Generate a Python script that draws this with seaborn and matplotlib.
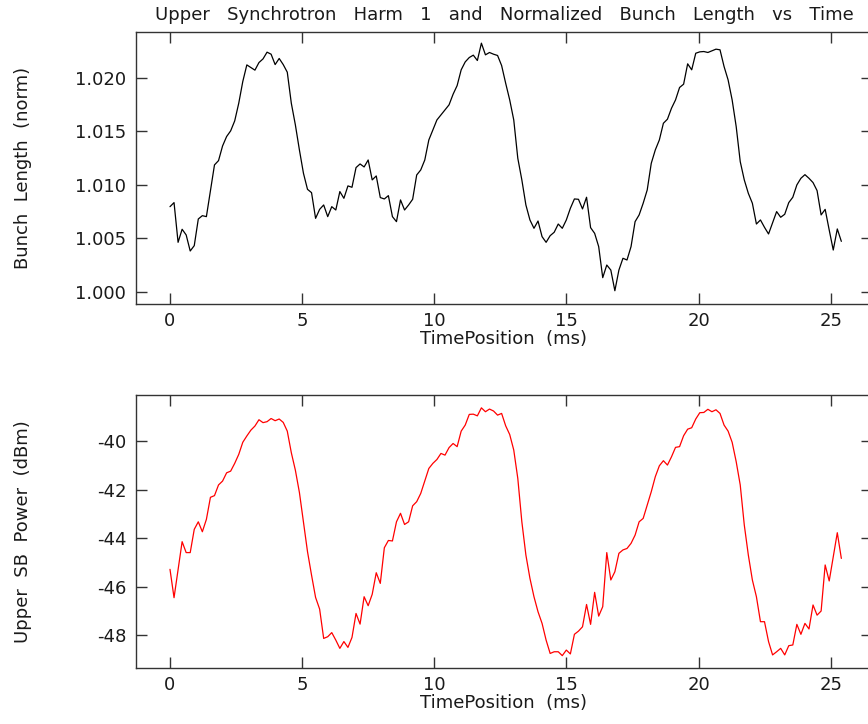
import numpy as np
import matplotlib
matplotlib.use("Agg")
import matplotlib.pyplot as plt
import seaborn as sns

title_text = "Upper   Synchrotron   Harm   1   and   Normalized   Bunch   Length   vs   Time"
x_label = "TimePosition  (ms)"
top_ylabel = "Bunch  Length  (norm)"
bottom_ylabel = "Upper  SB  Power  (dBm)"

bunch_length = [
    1.00794, 1.00832, 1.00461, 1.00583, 1.00530, 1.00380, 1.00430, 1.00679, 1.00710, 1.00701,
    1.00944, 1.01184, 1.01224, 1.01361, 1.01449, 1.01502, 1.01595, 1.01760, 1.01963, 1.02118,
    1.02093, 1.02069, 1.02140, 1.02174, 1.02237, 1.02218, 1.02121, 1.02178, 1.02121, 1.02050,
    1.01760, 1.01558, 1.01324, 1.01106, 1.00956, 1.00925, 1.00685, 1.00769, 1.00810, 1.00701,
    1.00794, 1.00763, 1.00935, 1.00872, 1.00988, 1.00975, 1.01159, 1.01193, 1.01165, 1.01230,
    1.01044, 1.01081, 1.00879, 1.00866, 1.00897, 1.00701, 1.00654, 1.00857,
    1.00763, 1.00810, 1.00863, 1.01090, 1.01137, 1.01230, 1.01417, 1.01511, 1.01604, 1.01651,
    1.01698, 1.01745, 1.01844, 1.01925, 1.02072, 1.02146, 1.02187, 1.02209, 1.02159, 1.02321,
    1.02212, 1.02234, 1.02218, 1.02206, 1.02112, 1.01947, 1.01791, 1.01604, 1.01246, 1.01044,
    1.00810, 1.00670, 1.00592, 1.00660, 1.00514, 1.00461, 1.00523, 1.00555, 1.00632, 1.00592,
    1.00670, 1.00779, 1.00866, 1.00863, 1.00773, 1.00882, 1.00598, 1.00545, 1.00421, 1.00131,
    1.00249, 1.00202, 1.00009, 1.00202, 1.00312, 1.00296, 1.00421, 1.00654,
    1.00717, 1.00826, 1.00950, 1.01199, 1.01324, 1.01417, 1.01573, 1.01611, 1.01713, 1.01791,
    1.01907, 1.01938, 1.02128, 1.02072, 1.02227, 1.02240, 1.02243, 1.02234, 1.02249, 1.02265,
    1.02259, 1.02103, 1.01978, 1.01791, 1.01542, 1.01215, 1.01044, 1.00919, 1.00826, 1.00632,
    1.00670, 1.00601, 1.00539, 1.00645, 1.00748, 1.00695, 1.00723, 1.00832, 1.00882, 1.00997,
    1.01059, 1.01093, 1.01059, 1.01019, 1.00944, 1.00717, 1.00769, 1.00576, 1.00389, 1.00586,
    1.00470,
]

sb_power = [
    -45.29, -46.46, -45.32, -44.15, -44.60, -44.60, -43.64, -43.33, -43.74, -43.23,
    -42.32, -42.25, -41.81, -41.65, -41.31, -41.24, -40.92, -40.55, -40.05, -39.79,
    -39.55, -39.38, -39.12, -39.24, -39.20, -39.07, -39.16, -39.09, -39.23, -39.59,
    -40.48, -41.20, -42.12, -43.33, -44.56, -45.53, -46.45, -46.93, -48.14, -48.07,
    -47.90, -48.21, -48.55, -48.27, -48.51, -48.10, -47.11, -47.55, -46.42, -46.79,
    -46.32, -45.43, -45.87, -44.40, -44.10, -44.12, -43.33, -42.98,
    -43.44, -43.33, -42.67, -42.50, -42.16, -41.65, -41.13, -40.92, -40.76, -40.51,
    -40.58, -40.27, -40.10, -40.23, -39.59, -39.34, -38.90, -38.89, -38.96, -38.63,
    -38.79, -38.68, -38.76, -38.93, -38.86, -39.37, -39.73, -40.37, -41.54, -43.33,
    -44.70, -45.66, -46.42, -47.04, -47.52, -48.21, -48.76, -48.69, -48.69, -48.85,
    -48.62, -48.78, -47.97, -47.84, -47.66, -46.74, -47.56, -46.24, -47.22, -46.83,
    -44.60, -45.73, -45.39, -44.63, -44.49, -44.43, -44.22, -43.88,
    -43.33, -43.19, -42.64, -42.09, -41.47, -41.02, -40.81, -40.99, -40.65, -40.26,
    -40.23, -39.78, -39.51, -39.45, -39.09, -38.83, -38.82, -38.69, -38.79, -38.71,
    -38.86, -39.34, -39.59, -40.05, -40.85, -41.81, -43.46, -44.70, -45.73, -46.42,
    -47.45, -47.45, -48.27, -48.82, -48.69, -48.55, -48.82, -48.44, -48.41, -47.56,
    -47.97, -47.52, -47.75, -46.76, -47.18, -47.01, -45.11, -45.77, -44.77, -43.78,
    -44.84,
]

t_start, t_end = 0.0, 25.4
x_ticks = [0, 5, 10, 15, 20, 25]
top_yticks = [1.000, 1.005, 1.010, 1.015, 1.020]
bottom_yticks = [-48, -46, -44, -42, -40]

time_top = np.linspace(t_start, t_end, len(bunch_length))
time_bot = np.linspace(t_start, t_end, len(sb_power))

sns.set_style("ticks")
plt.rcParams["font.family"] = ["DejaVu Sans"]
plt.rcParams["axes.unicode_minus"] = False

TXT = "#1a1a1a"
FS = 13

fig = plt.figure(figsize=(8.68, 7.24), dpi=100)
W, H = 868, 724


def px_axes(l, t, r, b):
    return fig.add_axes([l / W, 1 - b / H, (r - l) / W, (b - t) / H])


ax1 = px_axes(136, 31.5, 872, 304)
ax2 = px_axes(136, 395, 872, 668)

sns.lineplot(x=time_top, y=bunch_length, ax=ax1, color="black", linewidth=0.9)
sns.lineplot(x=time_bot, y=sb_power, ax=ax2, color="#ff0000", linewidth=0.9)

ax1.set_ylim(0.99885, 1.02430)
ax2.set_ylim(-49.36, -38.10)

for ax, yt, fmt in [(ax1, top_yticks, "{:.3f}"), (ax2, bottom_yticks, "{:d}")]:
    ax.set_xlim(-1.286, 26.56)
    ax.set_xticks(x_ticks)
    ax.set_xticklabels([str(v) for v in x_ticks])
    ax.set_yticks(yt)
    ax.set_yticklabels([fmt.format(v) for v in yt])
    ax.tick_params(direction="in", top=True, right=True, length=8, width=1.0,
                   color="#333333", labelsize=FS, labelcolor=TXT, pad=6)
    ax.tick_params(axis="y", pad=7)
    for s in ax.spines.values():
        s.set_visible(True)
        s.set_color("#333333")
        s.set_linewidth(1.0)
    ax.set_xlabel(x_label, fontsize=FS, color=TXT, labelpad=0)
    ax.minorticks_off()

ax1.set_ylabel(top_ylabel, fontsize=FS, color=TXT)
ax2.set_ylabel(bottom_ylabel, fontsize=FS, color=TXT)
ax1.yaxis.set_label_coords((32 - 136) / 736, 0.5)
ax2.yaxis.set_label_coords((32 - 136) / 736, 0.5)

ax1.set_title(title_text, fontsize=FS, color=TXT, pad=8)

fig.savefig("out.png", dpi=100)
